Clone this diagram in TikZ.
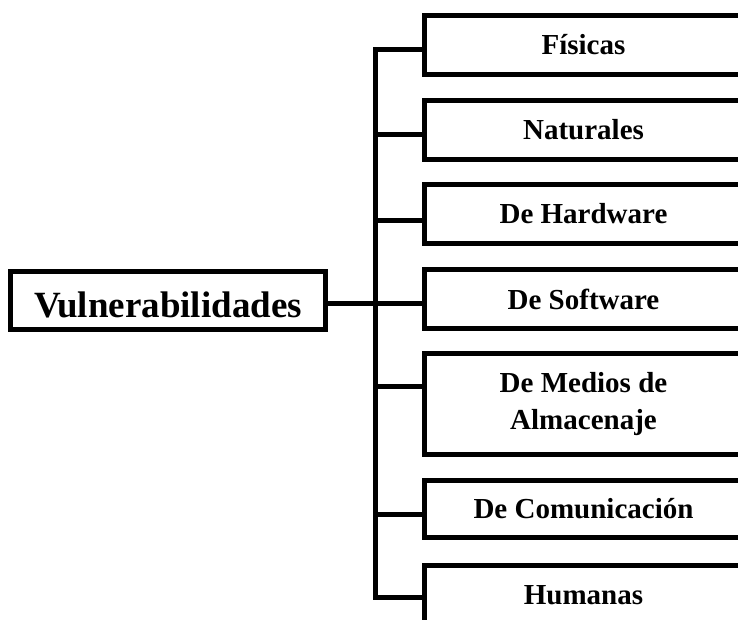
\documentclass[tikz,border=0pt]{standalone}
\usepackage{fontspec}
\setmainfont{Liberation Serif}
\begin{document}
\begin{tikzpicture}[x=1pt,y=-1pt,
  box/.style={draw, line width=5pt, rectangle, inner sep=0pt,
    minimum width=318pt, minimum height=59pt,
    font=\fontsize{29}{37}\selectfont\bfseries, align=center},
  rootbox/.style={draw, line width=5pt, rectangle, inner sep=0pt,
    minimum width=315pt, minimum height=58pt,
    font=\fontsize{37}{42}\selectfont\bfseries,
    text height=33pt, text depth=0pt},
  link/.style={line width=5pt}]
\useasboundingbox (0,0) rectangle (738,619);
\clip (0,0) rectangle (738,619);

\node[rootbox] (vul) at (168,300.5) {Vulnerabilidades};

\node[box] (fis) at (583.5,45) {Físicas};
\node[box] (nat) at (583.5,130) {Naturales};
\node[box] (hw)  at (583.5,214) {De Hardware};
\node[box] (sw)  at (583.5,299) {De Software};
\node[box, minimum height=101pt] (med) at (583.5,404) {De Medios de\\Almacenaje};
\node[box, minimum height=57pt] (com) at (583.5,509) {De Comunicación};
\node[box] (hum) at (583.5,595) {Humanas};

\coordinate (top) at (375,49.5);
\coordinate (j2) at (375,134.5);
\coordinate (j3) at (375,220.5);
\coordinate (j4) at (375,303);
\coordinate (j5) at (375,386.5);
\coordinate (j6) at (375,514.5);
\coordinate (bot) at (375,597.5);

\draw[link] (fis.west |- top) -- (top) -- (bot) -- (hum.west |- bot);
\draw[link] (j2) -- (j2 -| nat.west);
\draw[link] (j3) -- (j3 -| hw.west);
\draw[link] (vul.east |- j4) -- (j4 -| sw.west);
\draw[link] (j5) -- (j5 -| med.west);
\draw[link] (j6) -- (j6 -| com.west);
\end{tikzpicture}
\end{document}
